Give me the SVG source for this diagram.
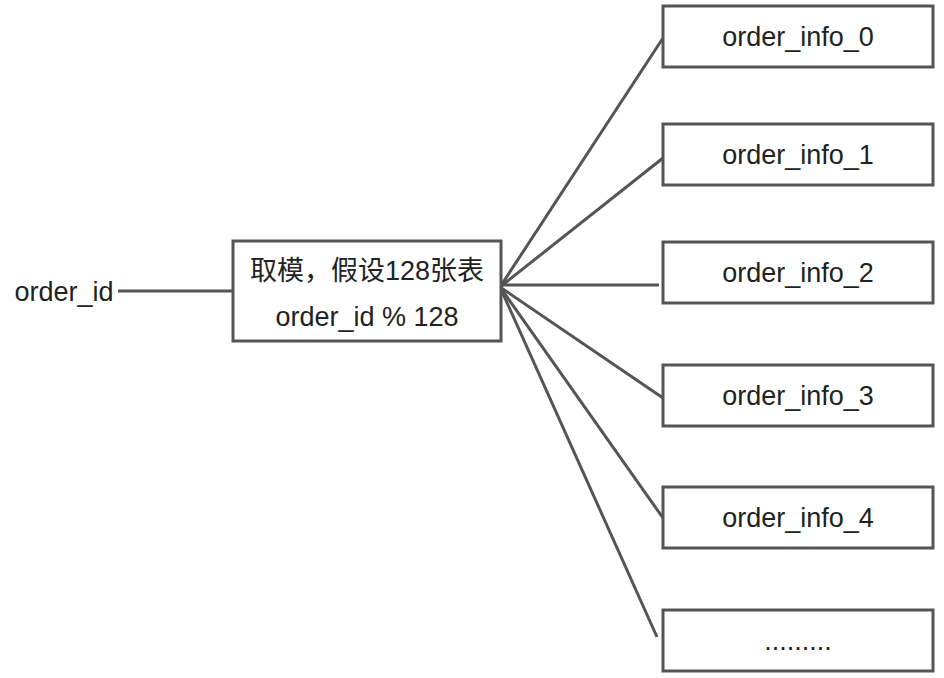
<svg xmlns="http://www.w3.org/2000/svg" width="944" height="678" viewBox="0 0 944 678">
<style>
.box{fill:#fff;stroke:#555;stroke-width:3}
.ln{stroke:#555;stroke-width:3;fill:none}
.t{font-family:"Liberation Sans","Noto Sans CJK SC",sans-serif;font-size:27px;fill:#222;text-anchor:middle}
</style>
<rect width="944" height="678" fill="#fff"/>
<g id="connectors">
<line class="ln" x1="118" y1="291" x2="233" y2="291"/>
<line class="ln" x1="500" y1="287" x2="663" y2="38"/>
<line class="ln" x1="500" y1="287" x2="663" y2="158"/>
<line class="ln" x1="500" y1="285" x2="659" y2="285"/>
<line class="ln" x1="500" y1="287" x2="663" y2="398"/>
<line class="ln" x1="500" y1="287" x2="663" y2="518"/>
<line class="ln" x1="500" y1="287" x2="657" y2="637"/>
</g>
<g id="src"><text class="t" x="64" y="301">order_id</text></g>
<g id="mod">
<rect class="box" x="233" y="241" width="268" height="100"/>
<text class="t" x="367" y="280">取模，假设128张表</text>
<text class="t" x="367" y="326">order_id % 128</text>
</g>
<g id="t0"><rect class="box" x="663" y="6" width="270" height="61"/><text class="t" x="798" y="46">order_info_0</text></g>
<g id="t1"><rect class="box" x="663" y="124" width="270" height="61"/><text class="t" x="798" y="164">order_info_1</text></g>
<g id="t2"><rect class="box" x="663" y="242" width="270" height="61"/><text class="t" x="798" y="282">order_info_2</text></g>
<g id="t3"><rect class="box" x="663" y="365" width="270" height="61"/><text class="t" x="798" y="405">order_info_3</text></g>
<g id="t4"><rect class="box" x="663" y="487" width="270" height="61"/><text class="t" x="798" y="527">order_info_4</text></g>
<g id="t5"><rect class="box" x="663" y="610" width="270" height="61"/><text class="t" x="798" y="650">.........</text></g>
</svg>
